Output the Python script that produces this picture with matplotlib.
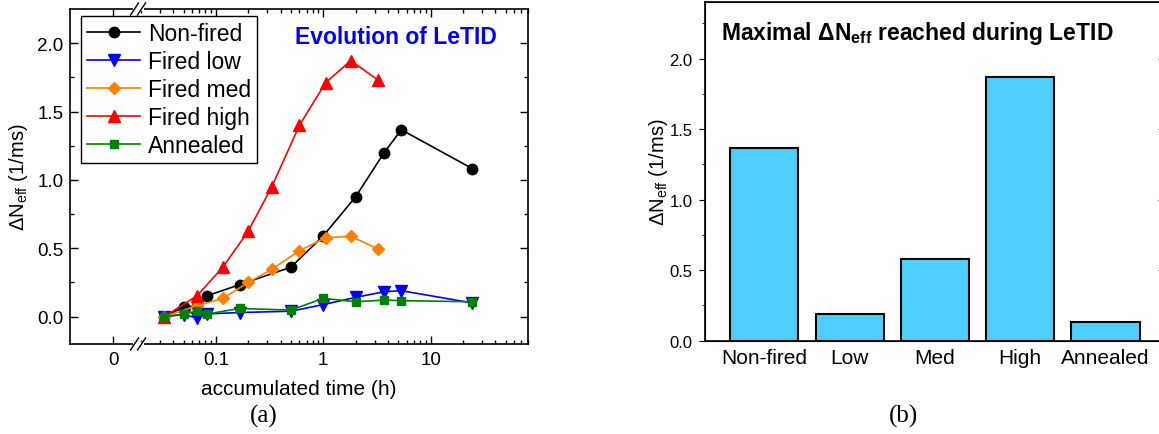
import matplotlib
matplotlib.use('Agg')
import matplotlib.pyplot as plt
import numpy as np
from matplotlib.ticker import FixedLocator, NullFormatter

plt.rcParams['font.family'] = ['Liberation Sans', 'DejaVu Sans']
plt.rcParams['mathtext.fontset'] = 'custom'
plt.rcParams['mathtext.rm'] = 'Liberation Sans'
plt.rcParams['mathtext.it'] = 'Liberation Sans:italic'
plt.rcParams['mathtext.bf'] = 'Liberation Sans:bold'

# (a) evolution of LeTID, time in hours
t_nonfired = [0.033, 0.05, 0.067, 0.083, 0.167, 0.5, 1.0, 2.0, 3.67, 5.33, 24.5]
nonfired = [0.0, 0.07, 0.079, 0.153, 0.234, 0.362, 0.591, 0.876, 1.197, 1.367, 1.082]
t_low = [0.033, 0.05, 0.067, 0.083, 0.167, 0.5, 1.0, 2.0, 3.67, 5.33, 24.5]
fired_low = [0.0, 0.015, -0.01, 0.02, 0.03, 0.04, 0.088, 0.141, 0.182, 0.19, 0.1]
t_fired = [0.033, 0.067, 0.117, 0.2, 0.33, 0.6, 1.05, 1.8, 3.2]
fired_med = [0.0, 0.08, 0.134, 0.25, 0.345, 0.482, 0.577, 0.588, 0.497]
fired_high = [0.0, 0.153, 0.365, 0.625, 0.946, 1.399, 1.71, 1.873, 1.733]
t_annealed = [0.033, 0.05, 0.067, 0.083, 0.167, 0.5, 1.0, 2.0, 3.67, 5.33, 24.5]
annealed = [0.0, 0.019, 0.041, 0.019, 0.06, 0.048, 0.134, 0.109, 0.121, 0.117, 0.109]

# (b) maximal values
categories = ['Non-fired', 'Low', 'Med', 'High', 'Annealed']
max_dn = [1.37, 0.19, 0.58, 1.87, 0.13]

W, H = 1159, 435
fig = plt.figure(figsize=(W / 100, H / 100), dpi=100)

# ---------- left panel ----------
ax = fig.add_axes([70 / W, 1 - 345 / H, 458.3 / W, 335 / H])
ax.set_xscale('log')
x_zero = 10 ** -1.955   # where "0" sits on the broken axis
ax.set_xlim(10 ** -2.358, 10 ** 1.909)
ax.set_ylim(-0.2, 2.25)

ax.plot(t_nonfired, nonfired, '-o', color='black', ms=7.5, lw=1.2, label='Non-fired')
ax.plot(t_low, fired_low, '-v', color='#0000ff', ms=8.5, lw=1.2, label='Fired low')
ax.plot(t_fired, fired_med, '-D', color='#ff8000', ms=6, lw=1.2, label='Fired med')
ax.plot(t_fired, fired_high, '-^', color='#ff0000', ms=8.5, lw=1.2, label='Fired high')
ax.plot(t_annealed, annealed, '-s', color='#008000', ms=6, lw=1.2, label='Annealed')

ax.xaxis.set_major_locator(FixedLocator([x_zero, 0.1, 1, 10]))
ax.set_xticklabels(['0', '0.1', '1', '10'])
minors = [k * 10.0 ** e for e in (-2, -1, 0, 1) for k in range(2, 10)]
minors = [m for m in minors if 0.019 < m < 81]
ax.xaxis.set_minor_locator(FixedLocator(minors))
ax.xaxis.set_minor_formatter(NullFormatter())
ax.set_yticks([0.0, 0.5, 1.0, 1.5, 2.0])
ax.set_yticklabels(['0.0', '0.5', '1.0', '1.5', '2.0'])
ax.yaxis.set_minor_locator(FixedLocator([0.25, 0.75, 1.25, 1.75]))
ax.tick_params(which='both', direction='in', top=True, right=True, width=1)
ax.tick_params(which='major', length=6, labelsize=13.5)
ax.tick_params(which='minor', length=3)
ax.tick_params(axis='x', pad=5)
ax.tick_params(axis='y', pad=4.5)
for s in ax.spines.values():
    s.set_linewidth(1.2)

ax.set_xlabel('accumulated time (h)', fontsize=15, va='center')
ax.xaxis.set_label_coords(0.5, -0.134)
ax.set_ylabel(r'$\Delta$N$_\mathrm{eff}$ (1/ms)', fontsize=14.5, va='center')
ax.yaxis.set_label_coords(-0.112, 0.5)

ax.text(0.711, 0.918, 'Evolution of LeTID', transform=ax.transAxes, color='#0000ff',
        fontsize=16.5, fontweight='bold', ha='center', va='center')

leg = ax.legend(loc='upper left', bbox_to_anchor=(0.025, 0.978), borderaxespad=0,
                fontsize=16.5, handlelength=2.3, handletextpad=0.35, borderpad=0.25,
                labelspacing=0.22, fancybox=False, framealpha=1, edgecolor='black')
leg.get_frame().set_linewidth(1.0)

# axis break marks
bx = (138 - 70) / 458.3
dx, dy, gap = 4 / 458.3, 6 / 335, 3.5 / 458.3
for yb in (0, 1):
    ax.plot([bx - gap, bx + gap], [yb, yb], color='white', lw=3,
            transform=ax.transAxes, clip_on=False, zorder=5)
    for off in (-gap, gap):
        ax.plot([bx + off - dx, bx + off + dx], [yb - dy, yb + dy], color='black',
                lw=1.0, transform=ax.transAxes, clip_on=False, zorder=6)

fig.text(264 / W, 1 - 416 / H, '(a)', fontsize=18, family='Liberation Serif',
         ha='center', va='center')

# ---------- right panel ----------
bx2 = fig.add_axes([705.2 / W, 1 - 341.7 / H, 459.4 / W, 338.4 / H])
pos = np.arange(len(categories))
bx2.bar(pos, max_dn, width=0.8, color='#4dcfff', edgecolor='black', linewidth=1.5)
bx2.set_xlim(-0.694, len(categories) - 1 + 0.694)
bx2.set_ylim(0, 2.4)
bx2.set_xticks(pos)
bx2.set_xticklabels(categories, fontsize=15)
bx2.tick_params(axis='x', length=0, pad=5)
bx2.set_yticks([0.0, 0.5, 1.0, 1.5, 2.0])
bx2.set_yticklabels(['0.0', '0.5', '1.0', '1.5', '2.0'])
bx2.yaxis.set_minor_locator(FixedLocator([0.25, 0.75, 1.25, 1.75, 2.25]))
bx2.tick_params(axis='y', which='major', direction='out', length=4, labelsize=12, pad=5)
bx2.tick_params(axis='y', which='minor', direction='out', length=2.5)
for s in bx2.spines.values():
    s.set_linewidth(1.2)
# right-hand ticks point inward
rt = bx2.twinx()
rt.set_ylim(bx2.get_ylim())
rt.set_yticks([0.5, 1.0, 1.5, 2.0])
rt.tick_params(axis='y', direction='in', length=5, labelright=False)

bx2.set_ylabel(r'$\Delta$N$_\mathrm{eff}$ (1/ms)', fontsize=14.5, va='center')
bx2.yaxis.set_label_coords(-0.101, 0.5)
bx2.text(0.0344, 0.911, r'Maximal $\mathbf{\Delta}$N$_\mathbf{eff}$ reached during LeTID',
         transform=bx2.transAxes, fontsize=16.5, fontweight='bold', ha='left', va='center')

fig.text(903 / W, 1 - 416 / H, '(b)', fontsize=18, family='Liberation Serif',
         ha='center', va='center')

fig.savefig('out.png', dpi=100)
